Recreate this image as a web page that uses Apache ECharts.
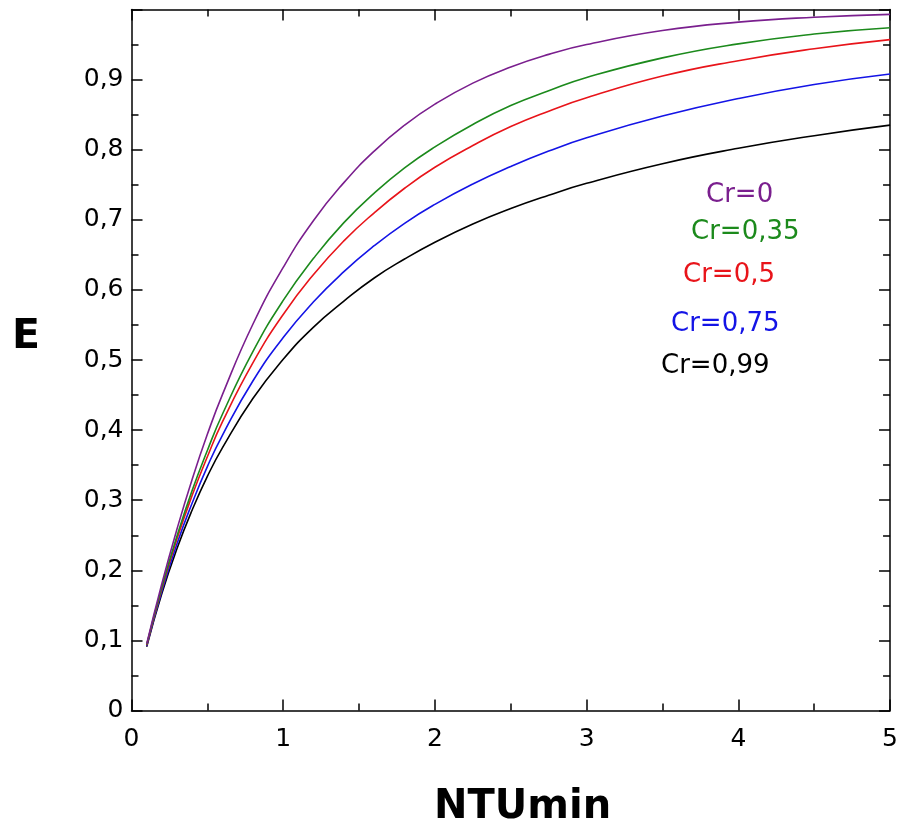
<!DOCTYPE html>
<html>
<head>
<meta charset="utf-8">
<script src="https://cdn.jsdelivr.net/npm/echarts@6/dist/echarts.min.js"></script>
<style>
  html, body { margin: 0; padding: 0; background: #fff; }
  #chart { width: 901px; height: 834px; }
</style>
</head>
<body>
<div id="chart"></div>
<script>
  // NTUmin values where the curves were read
  const ntu = [0.1, 0.2, 0.3, 0.4, 0.5, 0.6, 0.8, 1.0, 1.2, 1.4, 1.6, 1.8, 2.0, 2.25, 2.5, 2.75, 3.0, 3.5, 4.0, 4.5, 5.0]

  // E, one list per Cr
  const eCr0   = [0.095, 0.181, 0.259, 0.330, 0.394, 0.451, 0.551, 0.632, 0.699, 0.753, 0.798, 0.835, 0.865, 0.895, 0.918, 0.936, 0.950, 0.970, 0.982, 0.989, 0.993]
  const eCr035 = [0.094, 0.176, 0.249, 0.314, 0.371, 0.423, 0.512, 0.585, 0.645, 0.696, 0.738, 0.774, 0.804, 0.836, 0.863, 0.884, 0.903, 0.931, 0.951, 0.965, 0.974]
  const eCr05  = [0.093, 0.174, 0.245, 0.307, 0.362, 0.412, 0.496, 0.565, 0.622, 0.670, 0.710, 0.745, 0.775, 0.806, 0.833, 0.855, 0.874, 0.905, 0.927, 0.944, 0.957]
  const eCr075 = [0.092, 0.170, 0.238, 0.296, 0.348, 0.393, 0.470, 0.532, 0.583, 0.626, 0.663, 0.695, 0.722, 0.751, 0.776, 0.798, 0.817, 0.848, 0.873, 0.893, 0.908]
  const eCr099 = [0.091, 0.167, 0.231, 0.286, 0.334, 0.375, 0.445, 0.501, 0.547, 0.584, 0.617, 0.644, 0.668, 0.694, 0.716, 0.735, 0.752, 0.780, 0.802, 0.820, 0.835]

  const curveNames = ['Cr=0', 'Cr=0,35', 'Cr=0,5', 'Cr=0,75', 'Cr=0,99']
  const curveColors = ['#7a1f8e', '#1c8a1c', '#e8141a', '#1414e6', '#000000']
  const curves = [eCr0, eCr035, eCr05, eCr075, eCr099]

  const FONT = 'DejaVu Sans'

  const chart = echarts.init(document.getElementById('chart'))

  const tickStyle = { color: '#000', width: 1.5 }
  const boxAxis = (extra) => Object.assign({
    type: 'value',
    axisLine: { show: true, onZero: false, lineStyle: { color: '#000', width: 1.5 } },
    axisTick: { show: true, inside: true, length: 11, lineStyle: tickStyle },
    minorTick: { show: true, splitNumber: 2, length: 7, lineStyle: tickStyle },
    splitLine: { show: false },
    minorSplitLine: { show: false }
  }, extra)

  const series = curves.map((vals, i) => ({
    name: curveNames[i],
    type: 'line',
    xAxisIndex: 0,
    yAxisIndex: 0,
    smooth: true,
    symbol: 'none',
    lineStyle: { color: curveColors[i], width: 1.6 },
    data: ntu.map((x, j) => [x, vals[j]]),
    z: 10 - i
  }))

  // curve labels
  const labelPos = [[706, 182], [691, 219], [683, 262], [671, 311], [661, 353]]
  const graphic = curveNames.map((name, i) => ({
    type: 'text',
    left: labelPos[i][0],
    top: labelPos[i][1],
    style: { text: name, fill: curveColors[i], font: '26px "' + FONT + '"' }
  }))
  graphic.push({
    type: 'text', left: 12, top: 317,
    style: { text: 'E', fill: '#000', font: 'bold 41px "' + FONT + '"' }
  })
  graphic.push({
    type: 'text', left: 434, top: 788,
    style: { text: 'NTUmin', fill: '#000', font: 'bold 40px "' + FONT + '"' }
  })

  const options = {
    backgroundColor: '#fff',
    animation: false,
    grid: { left: 131.5, right: 8.5, top: 9.5, bottom: 123.5, containLabel: false },
    xAxis: [
      boxAxis({
        position: 'bottom', min: 0, max: 5, interval: 1,
        axisLabel: { margin: 16, color: '#000', fontFamily: FONT, fontSize: 25 }
      }),
      boxAxis({
        position: 'top', min: 0, max: 5, interval: 1,
        axisLabel: { show: false }
      })
    ],
    yAxis: [
      boxAxis({
        position: 'left', min: 0, max: 1, interval: 0.1,
        axisLabel: {
          margin: 8, color: '#000', fontFamily: FONT, fontSize: 25,
          formatter: v => v >= 0.999 ? '' : (Math.round(v * 10) / 10).toString().replace('.', ',')
        }
      }),
      boxAxis({
        position: 'right', min: 0, max: 1, interval: 0.1,
        axisLabel: { show: false }
      })
    ],
    series: series,
    graphic: graphic
  }
  chart.setOption(options)
</script>
</body>
</html>
